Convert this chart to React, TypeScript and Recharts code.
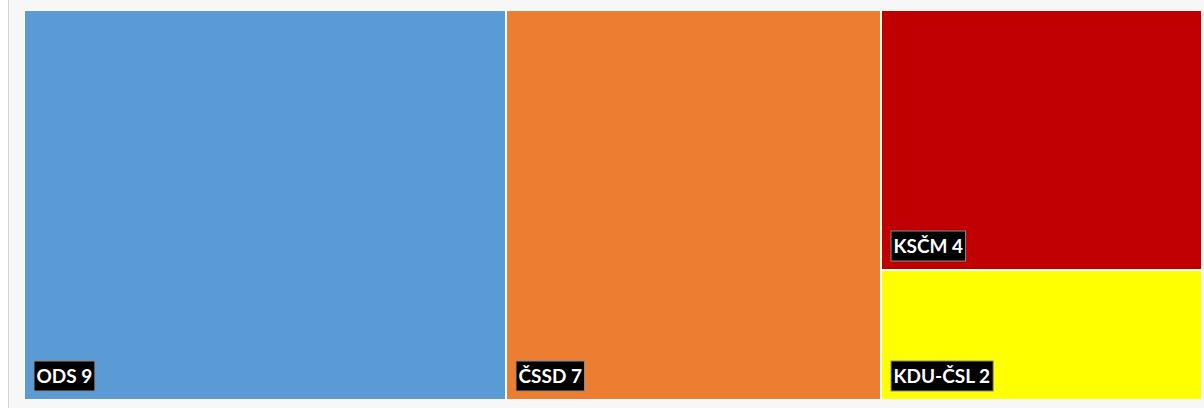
import { Treemap } from 'recharts'

const PARTIES = ['ODS', 'ČSSD', 'KSČM', 'KDU-ČSL']
const SEATS = [9, 7, 4, 2]
const COLORS = ['#5B9BD5', '#ED7D31', '#C00000', '#FFFF00']

const data = PARTIES.map((name, i) => ({ name, size: SEATS[i], color: COLORS[i] }))

const FONT = 'bold 19px Lato'
let ctx: CanvasRenderingContext2D | null = null
function textWidth(s: string) {
  if (!ctx) ctx = document.createElement('canvas').getContext('2d')
  if (!ctx) return s.length * 10
  ctx.font = FONT
  return ctx.measureText(s).width
}

function Cell(props: any) {
  const { x, y, width, height, depth, name, value } = props
  if (depth !== 1) return <g />
  const i = PARTIES.indexOf(name)
  const label = `${name} ${value}`
  const w = textWidth(label) + 5
  const bottom = y + height - 9
  const left = x + 10
  return (
    <g>
      <rect x={x} y={y} width={width} height={height} fill={COLORS[i]} stroke="#fff" strokeWidth={2} />
      <rect x={left} y={bottom - 30} width={w} height={30} fill="#000" stroke="#8c8c8c" strokeWidth={1} />
      <text x={left + 2.5} y={bottom - 8} fill="#fff" fontFamily="Lato" fontWeight="bold" fontSize={19}>
        {label}
      </text>
    </g>
  )
}

export default function App() {
  return (
    <div
      style={{
        position: 'absolute',
        left: 8,
        top: 0,
        width: 1196,
        height: 408,
        background: '#f7f7f7',
        borderLeft: '1px solid #d4d4d4',
        boxSizing: 'border-box',
      }}
    >
      <div style={{ position: 'absolute', left: 15, top: 10 }}>
        <Treemap
          width={1178}
          height={390}
          data={data}
          dataKey="size"
          nameKey="name"
          isAnimationActive={false}
          content={<Cell />}
        />
      </div>
    </div>
  )
}
